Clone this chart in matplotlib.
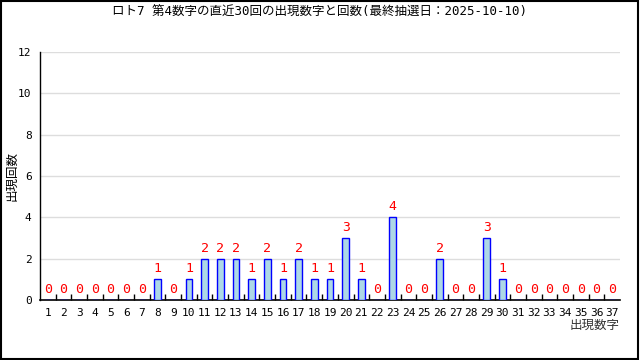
import numpy as np
import matplotlib
matplotlib.use("Agg")
import matplotlib.pyplot as plt
from matplotlib.patches import Rectangle

plt.rcParams["font.family"] = ["DejaVu Sans Mono", "Noto Sans CJK JP"]

numbers = list(range(1, 38))
counts = [0, 0, 0, 0, 0, 0, 0, 1, 0, 1, 2, 2, 2, 1, 2, 1, 2, 1, 1, 3,
          1, 0, 4, 0, 0, 2, 0, 0, 3, 1, 0, 0, 0, 0, 0, 0, 0]
title = "ロト7 第4数字の直近30回の出現数字と回数(最終抽選日：2025-10-10)"

fig = plt.figure(figsize=(6.4, 3.6), dpi=100)
ax = fig.add_axes([40 / 640, 60 / 360, 580 / 640, 248 / 360])

ax.bar(numbers, counts, width=0.42, color="#add8e6", edgecolor="#0000ff",
       linewidth=1.0, zorder=3)
for n, c in zip(numbers, counts):
    ax.annotate(str(c), (n, c), xytext=(0, 3), textcoords="offset points",
                ha="center", va="bottom", color="red", fontsize=9.5)

ax.set_xlim(0.5, 37.5)
ax.set_ylim(0, 12)
ax.set_yticks(range(0, 13, 2))
ax.grid(axis="y", color="#dddddd", linewidth=1, zorder=0)
ax.set_xticks(numbers)
ax.set_xticklabels([str(n) for n in numbers])
ax.set_xticks(np.arange(1.5, 37.5, 1), minor=True)
ax.tick_params(axis="x", which="major", length=0, labelsize=8, pad=6)
ax.tick_params(axis="x", which="minor", length=4, direction="in", width=1)
ax.tick_params(axis="y", length=0, labelsize=8, pad=6)
ax.spines["top"].set_visible(False)
ax.spines["right"].set_visible(False)
ax.spines["left"].set_linewidth(1)
ax.spines["bottom"].set_linewidth(1.2)

ax.set_ylabel("出現回数", fontsize=9, family=["Noto Sans CJK JP"])
ax.yaxis.set_label_coords(-0.038, 0.5)
fig.text(620 / 640, 1 - 325 / 360, "出現数字", ha="right", va="center",
         fontsize=9, family=["Noto Sans CJK JP"], color="#333333")
fig.text(0.5, 1 - 12 / 360, title, ha="center", va="center", fontsize=9)

fig.patches.append(Rectangle((0.001, 0.002), 0.996, 0.996, transform=fig.transFigure,
                             fill=False, edgecolor="black", linewidth=1.5))

fig.savefig("out.png", dpi=100)
